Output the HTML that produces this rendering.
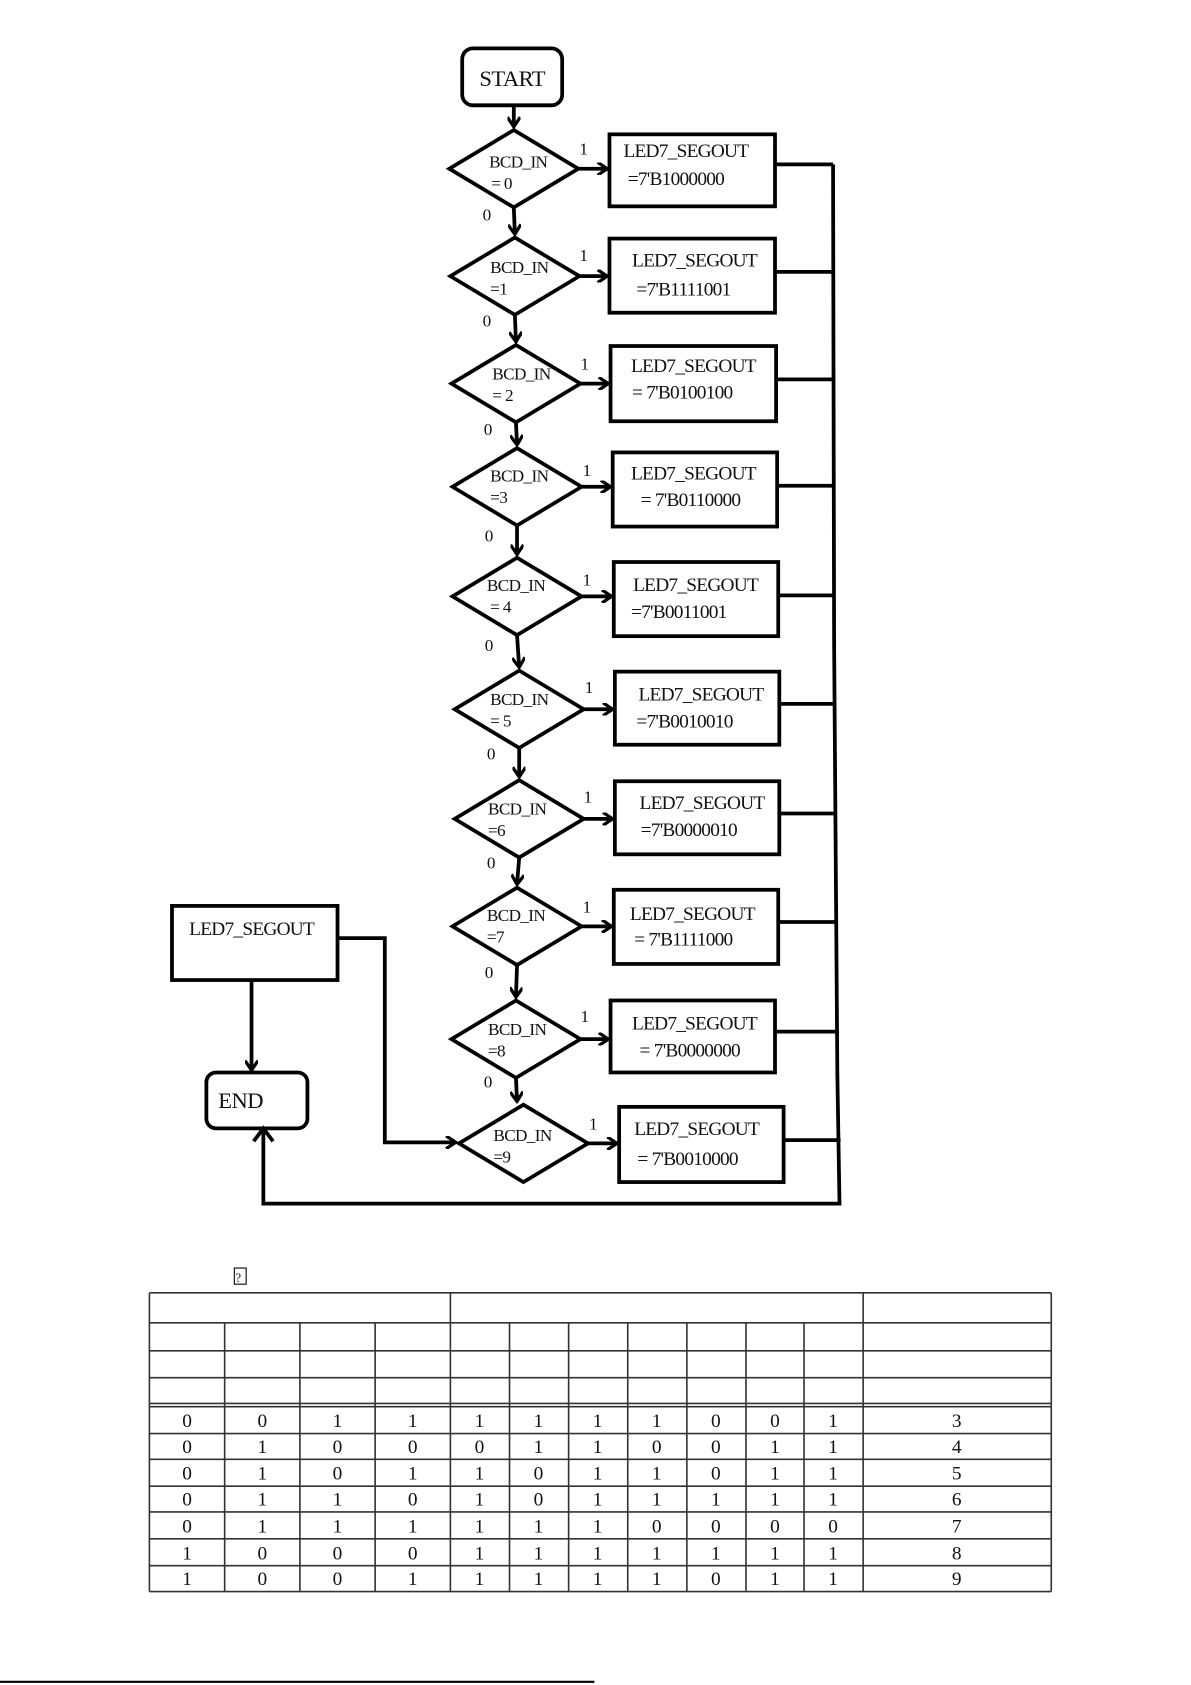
<!DOCTYPE html>
<html><head><meta charset="utf-8"><style>
html,body{margin:0;padding:0;background:#fff;}
svg{display:block;}
text{font-family:"Liberation Serif",serif;fill:#111;}
</style></head><body>
<svg width="1191" height="1685" viewBox="0 0 1108 1568" preserveAspectRatio="none" xmlns="http://www.w3.org/2000/svg">
<defs>
<marker id="a" markerWidth="12" markerHeight="12" refX="10" refY="6" orient="auto" markerUnits="userSpaceOnUse">
<path d="M1,0 L10,6 L1,12" fill="none" stroke="#000" stroke-width="3"/>
</marker>
</defs>
<g stroke="#000" stroke-width="3.5" fill="none">
<rect x="430" y="45" width="93" height="53" rx="10"/>
<line x1="478" y1="98" x2="478" y2="118" marker-end="url(#a)"/>
<polygon points="478,121 538,157 478,193 418,157"/>
<polygon points="479,221 539,257 479,293 419,257"/>
<polygon points="480,321 540,357 480,393 420,357"/>
<polygon points="481,417 541,453 481,489 421,453"/>
<polygon points="481,519 541,555 481,591 421,555"/>
<polygon points="483,624 543,660 483,696 423,660"/>
<polygon points="483,726 543,762 483,798 423,762"/>
<polygon points="481,826 541,862 481,898 421,862"/>
<polygon points="480,931 540,967 480,1003 420,967"/>
<polygon points="487,1028 547,1064 487,1100 427,1064"/>
<line x1="478" y1="193" x2="479" y2="218" marker-end="url(#a)"/>
<line x1="479" y1="293" x2="480" y2="318" marker-end="url(#a)"/>
<line x1="480" y1="393" x2="481" y2="414" marker-end="url(#a)"/>
<line x1="481" y1="489" x2="481" y2="516" marker-end="url(#a)"/>
<line x1="481" y1="591" x2="483" y2="621" marker-end="url(#a)"/>
<line x1="483" y1="696" x2="483" y2="723" marker-end="url(#a)"/>
<line x1="483" y1="798" x2="481" y2="823" marker-end="url(#a)"/>
<line x1="481" y1="898" x2="480" y2="928" marker-end="url(#a)"/>
<line x1="480" y1="1003" x2="481" y2="1025" marker-end="url(#a)"/>
<line x1="538" y1="157" x2="565" y2="157" marker-end="url(#a)"/>
<line x1="539" y1="257" x2="565" y2="257" marker-end="url(#a)"/>
<line x1="540" y1="357" x2="566" y2="357" marker-end="url(#a)"/>
<line x1="541" y1="453" x2="568" y2="453" marker-end="url(#a)"/>
<line x1="541" y1="555" x2="569" y2="555" marker-end="url(#a)"/>
<line x1="543" y1="660" x2="570" y2="660" marker-end="url(#a)"/>
<line x1="543" y1="762" x2="570" y2="762" marker-end="url(#a)"/>
<line x1="541" y1="862" x2="569" y2="862" marker-end="url(#a)"/>
<line x1="540" y1="967" x2="566" y2="967" marker-end="url(#a)"/>
<line x1="547" y1="1064" x2="574" y2="1064" marker-end="url(#a)"/>
<rect x="567" y="125" width="154" height="67"/>
<rect x="567" y="222" width="154" height="69"/>
<rect x="568" y="322" width="154" height="70"/>
<rect x="570" y="421" width="153" height="69"/>
<rect x="571" y="523" width="153" height="69"/>
<rect x="572" y="625" width="153" height="68"/>
<rect x="572" y="727" width="153" height="68"/>
<rect x="571" y="828" width="153" height="69"/>
<rect x="568" y="931" width="153" height="67"/>
<rect x="576" y="1030" width="153" height="70"/>
<line x1="721" y1="153" x2="775" y2="153"/>
<line x1="721" y1="253" x2="775" y2="253"/>
<line x1="722" y1="353" x2="775" y2="353"/>
<line x1="723" y1="452" x2="776" y2="452"/>
<line x1="724" y1="554" x2="776" y2="554"/>
<line x1="725" y1="655" x2="777" y2="655"/>
<line x1="725" y1="757" x2="777" y2="757"/>
<line x1="724" y1="858" x2="778" y2="858"/>
<line x1="721" y1="960" x2="779" y2="960"/>
<line x1="729" y1="1061" x2="782" y2="1061"/>
<polyline points="775,153 776,600 779,1000 781,1120 245,1120 245,1053"/>
<path d="M236,1062 L245,1050 L254,1062"/>
<rect x="160" y="843" width="154" height="69"/>
<line x1="234" y1="912" x2="234" y2="996" marker-end="url(#a)"/>
<rect x="192" y="998" width="94" height="52" rx="9"/>
<polyline points="314,873 358,873 358,1063 424,1063" marker-end="url(#a)"/>
</g>
<g font-size="21" letter-spacing="-0.5"><text x="446" y="80">START</text><text x="203" y="1031">END</text></g>
<g font-size="16" letter-spacing="-0.6">
<text x="455" y="156">BCD_IN</text><text x="457" y="176">= 0</text>
<text x="456" y="254">BCD_IN</text><text x="456" y="274">=1</text>
<text x="458" y="353">BCD_IN</text><text x="458" y="373">= 2</text>
<text x="456" y="448">BCD_IN</text><text x="456" y="468">=3</text>
<text x="453" y="550">BCD_IN</text><text x="456" y="570">= 4</text>
<text x="456" y="656">BCD_IN</text><text x="456" y="676">= 5</text>
<text x="454" y="758">BCD_IN</text><text x="454" y="778">=6</text>
<text x="453" y="857">BCD_IN</text><text x="453" y="877">=7</text>
<text x="454" y="963">BCD_IN</text><text x="454" y="983">=8</text>
<text x="459" y="1062">BCD_IN</text><text x="459" y="1082">=9</text>
<text x="539" y="144">1</text><text x="449" y="205">0</text>
<text x="539" y="243">1</text><text x="449" y="304">0</text>
<text x="540" y="344">1</text><text x="450" y="405">0</text>
<text x="542" y="443">1</text><text x="451" y="504">0</text>
<text x="542" y="545">1</text><text x="451" y="606">0</text>
<text x="544" y="645">1</text><text x="453" y="707">0</text>
<text x="543" y="747">1</text><text x="453" y="808">0</text>
<text x="542" y="849">1</text><text x="451" y="910">0</text>
<text x="540" y="951">1</text><text x="450" y="1012">0</text>
<text x="548" y="1051">1</text>
</g>
<g font-size="18" letter-spacing="-0.7">
<text x="580" y="146">LED7_SEGOUT</text><text x="584" y="172">=7'B1000000</text>
<text x="588" y="248">LED7_SEGOUT</text><text x="592" y="275">=7'B1111001</text>
<text x="587" y="346">LED7_SEGOUT</text><text x="588" y="371">= 7'B0100100</text>
<text x="587" y="446">LED7_SEGOUT</text><text x="596" y="471">= 7'B0110000</text>
<text x="589" y="550">LED7_SEGOUT</text><text x="587" y="575">=7'B0011001</text>
<text x="594" y="652">LED7_SEGOUT</text><text x="592" y="677">=7'B0010010</text>
<text x="595" y="753">LED7_SEGOUT</text><text x="596" y="778">=7'B0000010</text>
<text x="586" y="856">LED7_SEGOUT</text><text x="590" y="880">= 7'B1111000</text>
<text x="588" y="958">LED7_SEGOUT</text><text x="595" y="983">= 7'B0000000</text>
<text x="590" y="1056">LED7_SEGOUT</text><text x="593" y="1084">= 7'B0010000</text>
<text x="176" y="870">LED7_SEGOUT</text>
</g>
<rect x="218" y="1180" width="11" height="15" fill="none" stroke="#000" stroke-width="1"/>
<text x="219" y="1193" font-size="12">?</text>
<g stroke="#333" stroke-width="1.5" fill="none">
<line x1="139" y1="1203" x2="978" y2="1203"/>
<line x1="139" y1="1231" x2="978" y2="1231"/>
<line x1="139" y1="1257" x2="978" y2="1257"/>
<line x1="139" y1="1282" x2="978" y2="1282"/>
<line x1="139" y1="1306" x2="978" y2="1306"/>
<line x1="139" y1="1309" x2="978" y2="1309"/>
<line x1="139" y1="1334" x2="978" y2="1334"/>
<line x1="139" y1="1358" x2="978" y2="1358"/>
<line x1="139" y1="1383" x2="978" y2="1383"/>
<line x1="139" y1="1407" x2="978" y2="1407"/>
<line x1="139" y1="1432" x2="978" y2="1432"/>
<line x1="139" y1="1457" x2="978" y2="1457"/>
<line x1="139" y1="1481" x2="978" y2="1481"/>
<line x1="139" y1="1203" x2="139" y2="1481"/>
<line x1="419" y1="1203" x2="419" y2="1481"/>
<line x1="803" y1="1203" x2="803" y2="1481"/>
<line x1="978" y1="1203" x2="978" y2="1481"/>
<line x1="209" y1="1231" x2="209" y2="1481"/><line x1="279" y1="1231" x2="279" y2="1481"/><line x1="349" y1="1231" x2="349" y2="1481"/>
<line x1="474" y1="1231" x2="474" y2="1481"/><line x1="529" y1="1231" x2="529" y2="1481"/><line x1="584" y1="1231" x2="584" y2="1481"/>
<line x1="639" y1="1231" x2="639" y2="1481"/><line x1="694" y1="1231" x2="694" y2="1481"/><line x1="748" y1="1231" x2="748" y2="1481"/>
<line x1="0" y1="1565" x2="553" y2="1565" stroke="#000" stroke-width="2"/>
</g>
<g font-size="18" text-anchor="middle">
<text x="174" y="1328">0</text><text x="244" y="1328">0</text><text x="314" y="1328">1</text><text x="384" y="1328">1</text><text x="446" y="1328">1</text><text x="501" y="1328">1</text><text x="556" y="1328">1</text><text x="611" y="1328">1</text><text x="666" y="1328">0</text><text x="721" y="1328">0</text><text x="775" y="1328">1</text><text x="890" y="1328">3</text>
<text x="174" y="1352">0</text><text x="244" y="1352">1</text><text x="314" y="1352">0</text><text x="384" y="1352">0</text><text x="446" y="1352">0</text><text x="501" y="1352">1</text><text x="556" y="1352">1</text><text x="611" y="1352">0</text><text x="666" y="1352">0</text><text x="721" y="1352">1</text><text x="775" y="1352">1</text><text x="890" y="1352">4</text>
<text x="174" y="1377">0</text><text x="244" y="1377">1</text><text x="314" y="1377">0</text><text x="384" y="1377">1</text><text x="446" y="1377">1</text><text x="501" y="1377">0</text><text x="556" y="1377">1</text><text x="611" y="1377">1</text><text x="666" y="1377">0</text><text x="721" y="1377">1</text><text x="775" y="1377">1</text><text x="890" y="1377">5</text>
<text x="174" y="1401">0</text><text x="244" y="1401">1</text><text x="314" y="1401">1</text><text x="384" y="1401">0</text><text x="446" y="1401">1</text><text x="501" y="1401">0</text><text x="556" y="1401">1</text><text x="611" y="1401">1</text><text x="666" y="1401">1</text><text x="721" y="1401">1</text><text x="775" y="1401">1</text><text x="890" y="1401">6</text>
<text x="174" y="1426">0</text><text x="244" y="1426">1</text><text x="314" y="1426">1</text><text x="384" y="1426">1</text><text x="446" y="1426">1</text><text x="501" y="1426">1</text><text x="556" y="1426">1</text><text x="611" y="1426">0</text><text x="666" y="1426">0</text><text x="721" y="1426">0</text><text x="775" y="1426">0</text><text x="890" y="1426">7</text>
<text x="174" y="1451">1</text><text x="244" y="1451">0</text><text x="314" y="1451">0</text><text x="384" y="1451">0</text><text x="446" y="1451">1</text><text x="501" y="1451">1</text><text x="556" y="1451">1</text><text x="611" y="1451">1</text><text x="666" y="1451">1</text><text x="721" y="1451">1</text><text x="775" y="1451">1</text><text x="890" y="1451">8</text>
<text x="174" y="1475">1</text><text x="244" y="1475">0</text><text x="314" y="1475">0</text><text x="384" y="1475">1</text><text x="446" y="1475">1</text><text x="501" y="1475">1</text><text x="556" y="1475">1</text><text x="611" y="1475">1</text><text x="666" y="1475">0</text><text x="721" y="1475">1</text><text x="775" y="1475">1</text><text x="890" y="1475">9</text>
</g>
</svg>
</body></html>
